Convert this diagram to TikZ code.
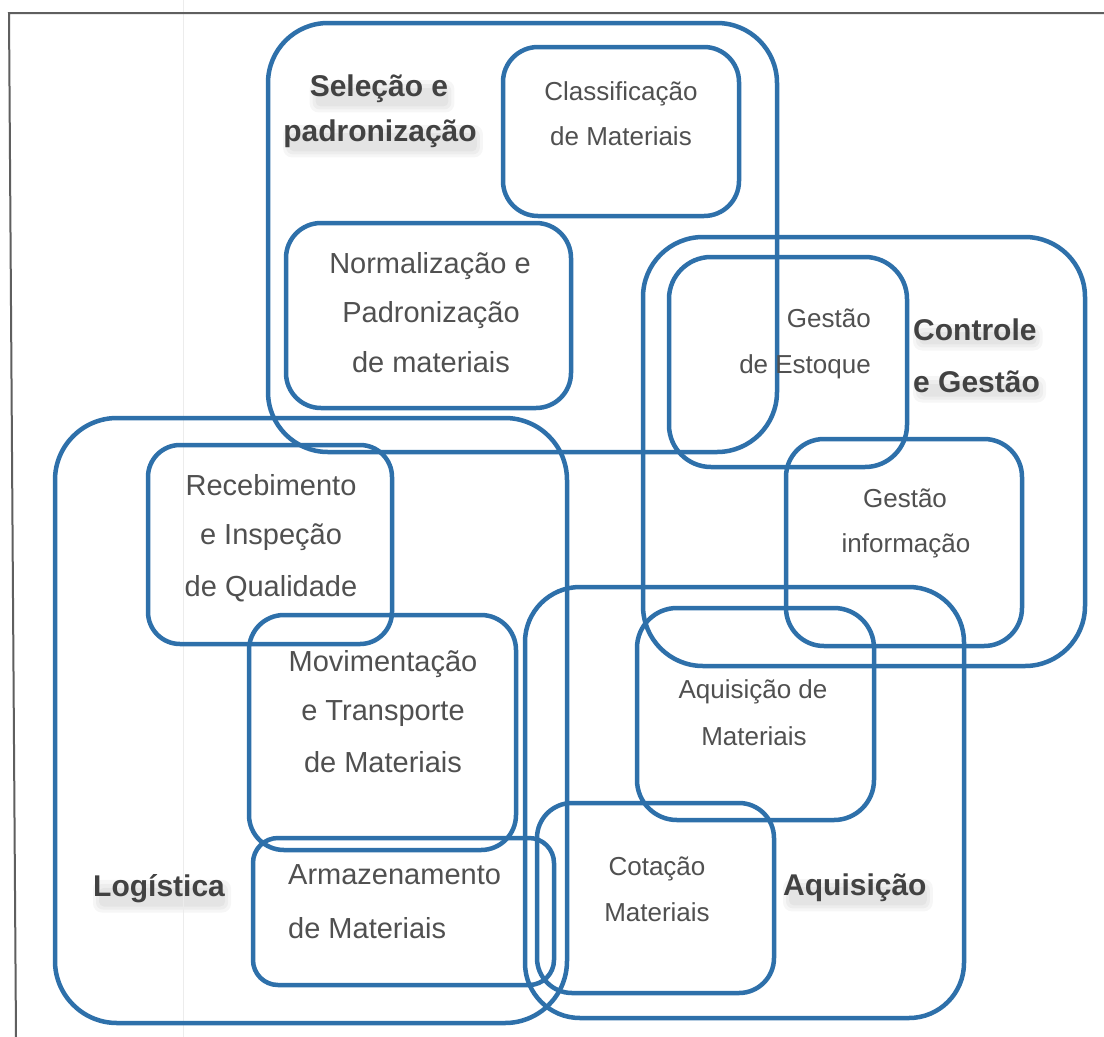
\documentclass[tikz,border=0pt]{standalone}
\usepackage{fontspec}
\setmainfont{Liberation Sans}
\usetikzlibrary{calc,backgrounds}
\definecolor{boxblue}{RGB}{46,112,170}
\definecolor{txtgray}{RGB}{80,80,80}
\definecolor{lblgray}{RGB}{66,66,66}
\definecolor{framegray}{RGB}{95,95,95}
\newcommand\roundbox[6]{%
  \node[box, rounded corners=#6pt,
        minimum width={(#4-#2)*1pt}, minimum height={(#5-#3)*1pt}]
        (#1) at ({(#2+#4)/2},{(#3+#5)/2}) {};}
% soft grey haze under a bold label (drop-shadow look)
\newcommand\haze[1]{%
  \fill[black, opacity=0.035, rounded corners=9pt]
    ($(#1.north west)+(0,6)$) rectangle ($(#1.south east)+(6,10)$);
  \fill[black, opacity=0.035, rounded corners=7pt]
    ($(#1.north west)+(3,10)$) rectangle ($(#1.south east)+(3,7)$);
  \fill[black, opacity=0.035, rounded corners=5pt]
    ($(#1.north west)+(6,14)$) rectangle ($(#1.south east)+(0,4)$);}
\begin{document}
\begin{tikzpicture}[x=1pt,y=-1pt,
  box/.style={draw=boxblue, line width=4.5pt, inner sep=0pt, rectangle},
  txt/.style={text=txtgray, inner sep=0pt, font=\fontsize{26}{30}\selectfont},
  txtL/.style={text=txtgray, inner sep=0pt, font=\fontsize{29}{34}\selectfont},
  lbl/.style={text=lblgray, inner sep=0pt, font=\fontsize{30}{36}\selectfont\bfseries},
]
\useasboundingbox (0,0) rectangle (1104,1037);

% scan frame and faint line
\coordinate (fTL) at (9,13);
\coordinate (fTR) at (1104,13);
\coordinate (fBL) at (16,1037);
\coordinate (faintT) at (183,0);
\coordinate (faintB) at (183,1037);
\draw[gray!15, line width=1pt] (faintT) -- (faintB);
\draw[framegray, line width=2pt] (fTR) -- (fTL) -- (fBL);

% boxes: name, left, top, right, bottom, radius
\roundbox{sel}{268}{23}{777}{452}{60}
\roundbox{classif}{503}{47}{739}{216}{35}
\roundbox{norm}{286}{223}{571}{408}{35}
\roundbox{ctrl}{643}{237}{1085}{666}{60}
\roundbox{estoque}{669}{257}{907}{467}{42}
\roundbox{info}{786}{439}{1022}{646}{38}
\roundbox{logist}{55}{418}{567}{1023}{62}
\roundbox{receb}{148}{445}{392}{644}{32}
\roundbox{movim}{249}{615}{516}{850}{35}
\roundbox{armaz}{253}{838}{554}{985}{25}
\roundbox{aquis}{525}{587}{964}{1018}{55}
\roundbox{aqmat}{637}{608}{874}{820}{40}
\roundbox{cotac}{537}{803}{774}{993}{35}

% texts
\node[txt, anchor=base] (classifA) at (621,100) {Classificação};
\node[txt, anchor=base] (classifB) at (621,145) {de Materiais};

\node[txtL, anchor=base] (normA) at (430,273) {Normalização e};
\node[txtL, anchor=base] (normB) at (431,322) {Padronização};
\node[txtL, anchor=base] (normC) at (431,372) {de materiais};

\node[txt, anchor=base east] (estA) at (871,327) {Gestão};
\node[txt, anchor=base east] (estB) at (871,373) {de Estoque};

\node[txt, anchor=base] (infoA) at (905,507) {Gestão};
\node[txt, anchor=base] (infoB) at (906,552) {informação};

\node[txtL, anchor=base] (recA) at (271,495) {Recebimento};
\node[txtL, anchor=base] (recB) at (271,544) {e Inspeção};
\node[txtL, anchor=base] (recC) at (271,596) {de Qualidade};

\node[txtL, anchor=base] (movA) at (383,671) {Movimentação};
\node[txtL, anchor=base] (movB) at (383,720) {e Transporte};
\node[txtL, anchor=base] (movC) at (383,772) {de Materiais};

\node[txtL, anchor=base west] (armA) at (288,884) {Armazenamento};
\node[txtL, anchor=base west] (armB) at (288,938) {de Materiais};

\node[txt, anchor=base] (aqA) at (753,698) {Aquisição de};
\node[txt, anchor=base] (aqB) at (754,745) {Materiais};

\node[txt, anchor=base] (cotA) at (657,875) {Cotação};
\node[txt, anchor=base] (cotB) at (657,921) {Materiais};

% bold group labels
\node[lbl, anchor=base] (selA) at (379,96) {Seleção e};
\node[lbl, anchor=base] (selB) at (380,141) {padronização};
\node[lbl, anchor=base west] (ctlA) at (913,340) {Controle};
\node[lbl, anchor=base west] (ctlB) at (913,392) {e Gestão};
\node[lbl, anchor=base west] (logl) at (93,896) {Logística};
\node[lbl, anchor=base west] (aql) at (783,895) {Aquisição};

% white page and soft shadows behind everything
\begin{scope}[on background layer]
  \fill[white] (0,0) rectangle (1104,1037);
  \haze{selA}
  \haze{selB}
  \haze{ctlA}
  \haze{ctlB}
  \haze{logl}
  \haze{aql}
\end{scope}
\end{tikzpicture}
\end{document}
